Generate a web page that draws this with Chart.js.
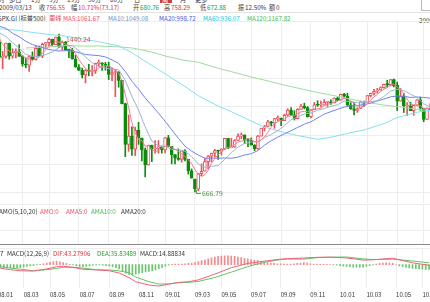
<!DOCTYPE html>
<html>
<head>
<meta charset="utf-8">
<script src="https://cdn.jsdelivr.net/npm/chart.js@4.4.1/dist/chart.umd.min.js"></script>
<style>
  body { margin: 0; width: 430px; height: 302px; overflow: hidden; background: #fff; position: relative;
         font-family: 'Noto Sans CJK SC', sans-serif; font-size: 6.8px; color: #444; }
  .t { position: absolute; white-space: nowrap; line-height: 8px; transform: scaleX(0.92); transform-origin: 0 50%; }
  .r { color: #e0303c; } .g { color: #2a9a2a; } .k { color: #333; }
  canvas { position: absolute; left: -9px; }
  .hr { position: absolute; left: 0; width: 430px; height: 1px; }
</style>
</head>
<body>
<!-- tab bar, only its lower edge is in the picture -->
<div class="hr" style="top:0;left:160px;width:12px;height:3px;background:#d33a3a"></div>
<span class="t k" style="top:-5px;left:-8px">分时</span>
<span class="t k" style="top:-5px;left:9px">多日</span>
<span class="t k" style="top:-5px;left:31px">1分</span>
<span class="t k" style="top:-5px;left:49px">5分</span>
<span class="t k" style="top:-5px;left:67px">15分</span>
<span class="t k" style="top:-5px;left:88px">30分</span>
<span class="t k" style="top:-5px;left:110px">60分</span>
<span class="t k" style="top:-5px;left:134px">日</span>
<span class="t" style="top:-5px;left:162px;color:#fff">周</span>
<span class="t k" style="top:-5px;left:180px">月</span>
<span class="t k" style="top:-5px;left:195px">更多</span>
<div style="position:absolute;left:421px;top:-1px;width:12px;height:10px;border:1px solid #bbb"></div>

<!-- quote row -->
<span class="t k" style="top:2.5px;left:-1px">2009/03/13</span>
<span class="t" style="top:2.5px;left:39px">收</span><span class="t r" style="top:2.5px;left:46px">756.55</span>
<span class="t" style="top:2.5px;left:71px">幅</span><span class="t r" style="top:2.5px;left:78px">10.71%(73.17)</span>
<span class="t" style="top:2.5px;left:133px">开</span><span class="t g" style="top:2.5px;left:140px">680.76</span>
<span class="t" style="top:2.5px;left:164px">高</span><span class="t r" style="top:2.5px;left:171px">758.29</span>
<span class="t" style="top:2.5px;left:200px">低</span><span class="t g" style="top:2.5px;left:207px">672.88</span>
<span class="t" style="top:2.5px;left:238px">振</span><span class="t k" style="top:2.5px;left:245px">12.50%</span>
<span class="t" style="top:2.5px;left:269px">额</span><span class="t k" style="top:2.5px;left:276px">0</span>
<div class="hr" style="top:12px;background:#e2e2e2"></div>

<!-- moving average row -->
<span class="t k" style="top:14px;left:-2px">SPX.GI [标普500]</span>
<span class="t r" style="top:14px;left:49px">周线</span>
<span class="t" style="top:14px;left:63px;color:#e8506a">MA5:1061.67</span>
<span class="t" style="top:14px;left:108px;color:#6b93c4">MA10:1049.08</span>
<span class="t" style="top:14px;left:159px;color:#4357e2">MA20:998.72</span>
<span class="t" style="top:14px;left:203px;color:#22c4de">MA60:936.07</span>
<span class="t" style="top:14px;left:247px;color:#3cba54">MA120:1167.82</span>
<span class="t k" style="top:15.5px;left:419px">2000</span>

<canvas id="mainChart" width="441" height="182" style="top:21px"></canvas>
<canvas id="amoChart" width="441" height="40" style="top:204px"></canvas>
<div class="hr" style="top:244px;background:#8a8a8a"></div>
<canvas id="macdChart" width="441" height="53" style="top:248px"></canvas>

<span class="t k" style="top:206.5px;left:-1px">AMO(5,10,20)</span>
<span class="t" style="top:206.5px;left:40px;color:#e8506a">AMO:0</span>
<span class="t" style="top:206.5px;left:66px;color:#e8506a">AMA5:0</span>
<span class="t" style="top:206.5px;left:91px;color:#3cba54">AMA10:0</span>
<span class="t k" style="top:206.5px;left:121px">AMA20:0</span>

<span class="t k" style="top:248.5px;left:0px">7</span>
<span class="t k" style="top:248.5px;left:7px">MACD(12,26,9)</span>
<span class="t r" style="top:248.5px;left:53px">DIF:43.27906</span>
<span class="t g" style="top:248.5px;left:97px">DEA:35.83489</span>
<span class="t k" style="top:248.5px;left:140px">MACD:14.88834</span>

<script>
// weekly bars, week ending date
const weeks = [
  '2008-01-04','2008-01-11','2008-01-18','2008-01-25','2008-02-01','2008-02-08','2008-02-15','2008-02-22','2008-02-29',
  '2008-03-07','2008-03-14','2008-03-20','2008-03-28','2008-04-04','2008-04-11','2008-04-18','2008-04-25',
  '2008-05-02','2008-05-09','2008-05-16','2008-05-23','2008-05-30','2008-06-06','2008-06-13','2008-06-20','2008-06-27',
  '2008-07-03','2008-07-11','2008-07-18','2008-07-25','2008-08-01','2008-08-08','2008-08-15','2008-08-22','2008-08-29',
  '2008-09-05','2008-09-12','2008-09-19','2008-09-26','2008-10-03','2008-10-10','2008-10-17','2008-10-24','2008-10-31',
  '2008-11-07','2008-11-14','2008-11-21','2008-11-28','2008-12-05','2008-12-12','2008-12-19','2008-12-26',
  '2009-01-02','2009-01-09','2009-01-16','2009-01-23','2009-01-30','2009-02-06','2009-02-13','2009-02-20','2009-02-27',
  '2009-03-06','2009-03-13','2009-03-20','2009-03-27','2009-04-03','2009-04-09','2009-04-17','2009-04-24',
  '2009-05-01','2009-05-08','2009-05-15','2009-05-22','2009-05-29','2009-06-05','2009-06-12','2009-06-19','2009-06-26',
  '2009-07-02','2009-07-10','2009-07-17','2009-07-24','2009-07-31','2009-08-07','2009-08-14','2009-08-21','2009-08-28',
  '2009-09-04','2009-09-11','2009-09-18','2009-09-25','2009-10-02','2009-10-09','2009-10-16','2009-10-23','2009-10-30',
  '2009-11-06','2009-11-13','2009-11-20','2009-11-27','2009-12-04','2009-12-11','2009-12-18','2009-12-24','2009-12-31',
  '2010-01-08','2010-01-15','2010-01-22','2010-01-29','2010-02-05','2010-02-12','2010-02-19','2010-02-26',
  '2010-03-05','2010-03-12','2010-03-19','2010-03-26','2010-04-01','2010-04-09','2010-04-16','2010-04-23','2010-04-30',
  '2010-05-07','2010-05-14','2010-05-21','2010-05-28','2010-06-04','2010-06-11','2010-06-18','2010-06-25',
  '2010-07-02','2010-07-09','2010-07-16'
];
const tickMonths = ['08.01','08.03','08.05','08.07','08.09','08.11','09.01','09.03','09.05','09.07','09.09','09.11','10.01','10.03','10.05','10.07'];

const opens = [
  1468.0,1411.6,1401.0,1325.2,1330.6,1395.4,1331.3,1350.0,1353.1,1330.6,
  1293.4,1288.1,1329.5,1315.2,1370.4,1332.8,1390.3,1397.8,1413.9,1388.3,
  1425.4,1375.9,1400.4,1360.7,1360.0,1317.9,1278.4,1262.9,1239.5,1260.7,
  1257.8,1260.3,1296.3,1298.2,1292.2,1282.8,1242.3,1251.7,1255.1,1213.3,
  1099.2,899.2,940.6,876.8,968.8,931.0,873.3,800.0,896.2,876.1,
  879.7,887.9,872.8,931.8,890.4,850.1,832.0,825.9,868.6,826.8,
  770.1,729.6,680.76,756.6,768.5,815.9,842.5,856.6,869.6,866.2,
  877.5,929.2,882.9,887.0,919.1,940.1,946.2,921.2,918.9,896.4,
  879.1,940.4,979.3,987.5,1010.5,1004.1,1026.1,1028.9,1016.4,1042.7,
  1068.3,1044.4,1025.2,1071.5,1087.7,1079.6,1036.2,1069.3,1093.5,1091.4,
  1091.5,1106.0,1106.4,1102.5,1126.5,1116.6,1145.0,1136.0,1091.8,1073.9,
  1066.2,1075.5,1109.2,1105.4,1138.7,1150.0,1159.9,1166.6,1178.1,1194.4,
  1192.1,1217.3,1188.6,1111.0,1135.7,1087.7,1087.3,1064.9,1091.6,1117.5,
  1076.8,1022.6,1078.0
];
const highs = [
  1471.8,1416.4,1428.0,1355.2,1396.0,1395.4,1368.0,1367.8,1388.3,1335.1,
  1321.7,1335.3,1353.0,1380.9,1381.0,1395.9,1399.1,1419.4,1415.5,1425.4,
  1440.24,1406.3,1404.1,1367.0,1370.6,1335.6,1291.0,1273.0,1266.4,1292.2,
  1285.3,1297.9,1313.2,1300.7,1301.4,1303.0,1274.5,1265.1,1255.1,1213.3,
  1102.0,1044.3,985.4,984.4,1007.5,931.0,882.3,896.3,896.2,918.9,
  918.9,887.9,934.7,943.9,890.4,850.1,877.9,870.0,875.0,826.8,
  780.0,729.6,758.29,804.5,832.9,845.6,857.3,875.6,871.8,878.9,
  930.2,929.2,930.2,923.9,951.7,956.2,946.2,928.9,931.9,898.7,
  943.9,979.4,993.2,1018.0,1012.8,1027.6,1039.5,1028.9,1048.2,1074.8,
  1080.2,1065.0,1075.0,1096.6,1101.4,1085.0,1071.0,1105.4,1113.7,1112.2,
  1119.1,1108.0,1117.7,1128.0,1130.4,1145.9,1150.4,1150.5,1104.7,1104.0,
  1079.3,1112.4,1112.4,1139.3,1151.0,1169.2,1174.1,1181.4,1194.7,1213.9,
  1217.3,1219.8,1205.1,1173.6,1150.0,1104.0,1105.7,1092.0,1119.1,1131.2,
  1076.8,1078.0,1099.5
];
const lows = [
  1411.2,1370.6,1312.8,1270.1,1322.4,1316.8,1321.6,1322.6,1330.6,1282.3,
  1274.9,1257.0,1312.4,1312.6,1331.7,1324.4,1370.3,1379.6,1382.1,1387.6,
  1373.1,1362.4,1359.4,1324.8,1316.8,1277.9,1260.7,1225.3,1200.4,1235.9,
  1234.7,1247.4,1282.4,1261.8,1263.2,1217.2,1212.4,1133.5,1179.8,1097.6,
  839.8,865.8,845.3,845.0,899.7,818.7,741.0,798.1,815.7,857.0,
  857.0,857.0,857.7,888.3,804.3,804.8,821.7,812.7,818.4,754.3,
  734.5,666.79,672.88,747.0,768.5,779.2,814.5,839.0,826.8,847.1,
  875.0,878.9,882.9,885.1,919.1,927.4,903.8,888.9,896.4,869.3,
  875.3,940.4,965.4,987.5,991.0,978.5,1016.2,991.0,1016.4,1036.1,
  1041.2,1019.0,1025.2,1071.5,1073.6,1033.4,1029.4,1069.3,1085.9,1083.7,
  1091.5,1085.8,1095.0,1102.5,1114.8,1116.6,1131.4,1090.2,1071.6,1044.5,
  1056.5,1075.5,1086.0,1105.4,1132.0,1141.1,1151.0,1165.0,1175.0,1181.1,
  1186.1,1181.6,1065.8,1111.0,1055.9,1040.8,1064.9,1042.2,1087.7,1066.6,
  1010.9,1022.6,1064.9
];
const closes = [
  1411.6,1401.0,1325.2,1330.6,1395.4,1331.3,1350.0,1353.1,1330.6,1293.4,
  1288.1,1329.5,1315.2,1370.4,1332.8,1390.3,1397.8,1413.9,1388.3,1425.4,
  1375.9,1400.4,1360.7,1360.0,1317.9,1278.4,1262.9,1239.5,1260.7,1257.8,
  1260.3,1296.3,1298.2,1292.2,1282.8,1242.3,1251.7,1255.1,1213.3,1099.2,
  899.2,940.6,876.8,968.8,931.0,873.3,800.0,896.2,876.1,879.7,
  887.9,872.8,931.8,890.4,850.1,832.0,825.9,868.6,826.8,770.1,
  735.1,683.4,756.55,768.5,815.9,842.5,856.6,869.6,866.2,877.5,
  929.2,882.9,887.0,919.1,940.1,946.2,921.2,918.9,896.4,879.1,
  940.4,979.3,987.5,1010.5,1004.1,1026.1,1028.9,1016.4,1042.7,1068.3,
  1044.4,1025.2,1071.5,1087.7,1079.6,1036.2,1069.3,1093.5,1091.4,1091.5,
  1106.0,1106.4,1102.5,1126.5,1115.1,1145.0,1136.0,1091.8,1073.9,1066.2,
  1075.5,1109.2,1104.5,1138.7,1150.0,1159.9,1166.6,1178.1,1194.4,1192.1,
  1217.3,1186.7,1110.9,1135.7,1087.7,1089.4,1064.9,1091.6,1117.5,1076.8,
  1022.6,1078.0,1064.9
];

// moving averages
const ma5 = [
  1469.5,1448.7,1420.2,1389.4,1372.8,1356.7,1346.5,1352.1,1352.1,1331.7,
  1323.0,1318.9,1311.4,1319.3,1327.2,1347.6,1361.3,1381.0,1384.6,1403.1,
  1400.3,1400.8,1390.1,1384.5,1363.0,1343.5,1316.0,1291.7,1271.9,1259.9,
  1256.2,1262.9,1274.7,1281.0,1286.0,1282.4,1273.4,1264.8,1249.0,1212.3,
  1143.7,1081.5,1005.8,956.9,923.3,918.1,890.0,893.9,875.3,865.1,
  868.0,882.5,889.7,892.5,886.6,875.4,866.0,853.4,840.7,824.7,
  805.3,776.8,754.4,742.7,751.9,773.4,808.0,830.6,850.2,862.5,
  879.8,885.1,888.6,899.1,911.7,915.1,922.7,929.1,924.6,912.4,
  911.2,922.8,936.5,959.4,984.4,1001.5,1011.4,1017.2,1023.6,1036.5,
  1040.1,1039.4,1050.4,1059.4,1061.7,1060.0,1068.9,1073.3,1074.0,1076.4,
  1090.3,1097.8,1099.6,1106.6,1111.3,1119.1,1125.0,1122.9,1112.4,1102.6,
  1088.7,1083.3,1085.9,1098.8,1115.6,1132.5,1143.9,1158.7,1169.8,1178.2,
  1189.7,1193.7,1180.3,1168.5,1147.7,1122.1,1097.7,1093.9,1090.2,1088.0,
  1074.7,1077.3,1072.0
];
// every second week
const ma10 = [
  1469.1,1445.4,1428.1,1397.6,1370.7,1339.9,1331.7,1329.4,1340.1,1352.0,
  1373.9,1385.6,1383.1,1358.4,1328.2,1299.9,1283.2,1272.9,1268.2,1265.0,
  1213.0,1135.3,1067.8,985.7,916.1,893.0,891.8,875.8,874.3,866.6,
  840.4,803.9,788.3,792.4,796.5,826.6,859.6,887.1,903.9,911.9,
  913.1,932.8,948.4,967.1,991.5,1020.8,1033.8,1049.1,1054.1,1066.7,
  1075.2,1086.4,1093.8,1111.4,1109.5,1103.9,1104.4,1109.1,1113.6,1134.3,
  1161.1,1169.5,1162.9,1145.7,1129.4,1098.4,1082.9
];
const ma20 = [
  1489.5,1478.2,1468.1,1443.8,1427.2,1404.5,1388.6,1378.8,1368.9,1361.4,
  1356.9,1358.7,1356.3,1349.3,1340.1,1336.9,1334.4,1328.0,1313.3,1296.6,
  1256.5,1209.3,1170.4,1127.0,1090.6,1053.0,1013.6,971.8,930.0,891.4,
  866.7,847.9,832.1,833.4,831.6,833.5,831.8,837.7,848.2,854.2,
  869.9,896.2,917.8,935.5,951.7,967.0,983.3,998.8,1010.6,1029.1,
  1048.0,1060.1,1071.5,1082.8,1088.1,1089.6,1095.4,1101.5,1112.5,1121.9,
  1132.5,1137.0,1136.0,1129.7,1131.9,1129.8,1126.2
];
const ma60Weeks = [2,8,12,18,22,28,32,38,42,48,52,58,62,68,72,78,82,88,92,98,102,108,112,118,122,128,132];
const ma60 = [1465.7,1457.6,1448.0,1436.0,1430.0,1414.0,1402.0,1382.6,1348.7,1286.0,1245.5,1183.1,1138.6,1087.4,
              1059.9,1014.1,984.4,957.9,942.9,924.9,934.7,957.1,970.2,1001.7,1031.1,1057.2,1068.3];
const ma120Weeks = [10,12,18,22,28,32,38,42,48,52,58,62,68,72,78,82,88,92,98,102,108,112,118,122,128,132];
const ma120 = [1372.0,1373.5,1377.7,1383.3,1380.9,1381.5,1377.3,1372.0,1352.0,1332.8,1310.6,1302.2,1272.5,1256.0,
               1229.8,1214.5,1189.9,1175.5,1153.8,1141.7,1121.6,1107.9,1092.4,1084.9,1072.3,1064.1];

// MACD panel
const macdWeeks = [2,5,8,12,16,19,21,24,27,31,35,38,41,43,47,50,53,56,59,62,67,72,77,79,83,87,89,94,98,102,107,112,115,121,127,132];
const dif = [-24,-33,-40,-42,-28,-14,-10,-18,-30,-34,-40,-55,-85,-112,-133,-140,-128,-116,-112,-100,
             -62,-20,8,14,26,36,39,43.3,48,49,44,30,32,42,12,-4];
const dea = [-14,-22,-30,-39,-33,-25,-17,-17,-23,-33,-35,-41,-53,-81,-111,-127,-126,-118,-116,-110,
             -84,-49,-13,-1,19,33,37,35.8,46,49,50,38,33,36,24,12];
const macdHist = [
  -16,-18,-20,-22,-22,-22,-22,-22,-20,-16,
  -12,-8,-6,-2,2,6,10,16,20,22,
  18,14,8,2,-2,-8,-12,-14,-12,-8,
  -4,-2,-2,-4,-6,-10,-14,-20,-28,-40,
  -56,-64,-68,-62,-56,-52,-48,-44,-40,-34,
  -26,-18,-10,-4,2,4,4,4,6,8,
  10,14,20,26,32,38,44,50,54,56,
  58,58,56,54,50,46,42,38,34,30,
  26,22,18,14,10,8,6,6,4,4,
  4,6,8,10,14,10,6,4,4,2,
  2,2,0,-2,-4,-6,-10,-12,-14,-16,
  -16,-16,-16,-12,-6,-2,4,8,10,12,
  12,8,0,-8,-14,-18,-22,-24,-26,-28,
  -30,-32,-32
];

Chart.defaults.font.family = "'Noto Sans CJK SC', sans-serif";

const UP = '#ef4f5c';
const DOWN = '#0b8c0b';
const GRID = '#ededed';
const FIRST_SHOWN = 2;   // the two first weeks sit left of the window

// label only the first week of every second month
function monthTick(i) {
  const ym = weeks[i].slice(2, 7).replace('-', '.');
  if (i > 0 && weeks[i - 1].slice(2, 7).replace('-', '.') === ym) return '';
  if (!tickMonths.includes(ym)) return '';
  return i === 0 ? '   ' + ym : ym;
}

function xAxis(showLabels) {
  return {
    type: 'category',
    offset: true,
    border: { display: false },
    grid: { offset: false, drawTicks: false, color: ctx => monthTick(ctx.index) ? GRID : 'rgba(0,0,0,0)' },
    ticks: {
      display: showLabels, autoSkip: false, maxRotation: 0, align: 'start', padding: 3,
      color: '#333', font: { size: 6 },
      callback: (value, index) => monthTick(index)
    }
  };
}

function yAxis(min, max, lines) {
  return {
    min: min, max: max, position: 'right',
    border: { display: false },
    grid: { drawTicks: false, color: GRID },
    ticks: { display: false },
    afterBuildTicks: axis => { axis.ticks = lines.map(v => ({ value: v })); }
  };
}

function panelOptions(y, showLabels) {
  return {
    responsive: false,
    maintainAspectRatio: false,
    devicePixelRatio: 1,
    animation: false,
    events: [],
    layout: { padding: 0 },
    plugins: { legend: { display: false }, tooltip: { enabled: false } },
    scales: { x: xAxis(showLabels), y: y }
  };
}

function line(data, color) {
  return { type: 'line', data: data, borderColor: color, borderWidth: 1, pointRadius: 0, tension: 0, fill: false, order: 0 };
}

const at = (idx, values) => idx.map((w, k) => ({ x: weeks[w], y: values[k] }));
const everyOther = values => values.map((v, k) => ({ x: weeks[k * 2], y: v }));

// high / low markers on the price panel, for the weeks in view
const extremes = {
  id: 'extremes',
  afterDatasetsDraw(chart) {
    const { ctx, scales: { x, y } } = chart;
    const shownHighs = highs.slice(FIRST_SHOWN), shownLows = lows.slice(FIRST_SHOWN);
    const hi = FIRST_SHOWN + shownHighs.indexOf(Math.max(...shownHighs));
    const lo = FIRST_SHOWN + shownLows.indexOf(Math.min(...shownLows));
    ctx.save();
    ctx.font = "6.8px 'Noto Sans CJK SC'";
    ctx.textBaseline = 'middle';

    let px = x.getPixelForValue(hi), py = y.getPixelForValue(highs[hi]);
    ctx.fillStyle = '#c85050';
    ctx.fillText(highs[hi].toFixed(2), px + 7, py + 5.5);

    px = x.getPixelForValue(lo); py = y.getPixelForValue(lows[lo]);
    ctx.strokeStyle = '#4ca24c';
    ctx.lineWidth = 1;
    ctx.beginPath();
    ctx.moveTo(px + 1.5, py - 2);
    ctx.lineTo(px + 1.5, py + 1.5);
    ctx.lineTo(px + 6, py + 1.5);
    ctx.stroke();
    ctx.fillStyle = '#3f9a3f';
    ctx.fillText(lows[lo].toFixed(2), px + 7, py + 1);
    ctx.restore();
  }
};

const rising = closes.map((c, i) => c >= opens[i]);

new Chart(document.getElementById('mainChart'), {
  type: 'bar',
  data: {
    labels: weeks,
    datasets: [
      line(ma5, '#f27d92'),
      line(everyOther(ma10), '#9db3d8'),
      line(everyOther(ma20), '#7282ee'),
      line(at(ma60Weeks, ma60), '#82e0ee'),
      line(at(ma120Weeks, ma120), '#9edc9e'),
      {
        type: 'bar',
        data: opens.map((o, i) => [o, closes[i]]),
        backgroundColor: rising.map(u => u ? '#ffffff' : DOWN),
        borderColor: rising.map(u => u ? UP : DOWN),
        borderWidth: 1,
        borderSkipped: false,
        barThickness: 3,
        minBarLength: 1,
        grouped: false,
        order: 1
      },
      {
        type: 'bar',
        data: lows.map((l, i) => [l, highs[i]]),
        backgroundColor: rising.map(u => u ? UP : DOWN),
        barThickness: 1,
        grouped: false,
        order: 2
      }
    ]
  },
  options: panelOptions(yAxis(613, 1503.9, [662, 802.5, 943, 1083.5, 1224, 1364.5, 1503.9]), false),
  plugins: [extremes]
});

// AMO is empty for an index, only the frame is drawn
new Chart(document.getElementById('amoChart'), {
  type: 'bar',
  data: { labels: weeks, datasets: [] },
  options: panelOptions(yAxis(0, 1, [0.35, 1]), false)
});

new Chart(document.getElementById('macdChart'), {
  type: 'bar',
  data: {
    labels: weeks,
    datasets: [
      line(at(macdWeeks, dif), '#f0607a'),
      line(at(macdWeeks, dea), '#62c462'),
      {
        type: 'bar',
        data: macdHist,
        backgroundColor: macdHist.map(v => v >= 0 ? '#f38b8b' : '#6cc46c'),
        barThickness: 1,
        grouped: false,
        order: 1
      }
    ]
  },
  options: panelOptions(yAxis(-151.5, 109, [109]), true)
});
</script>
</body>
</html>
